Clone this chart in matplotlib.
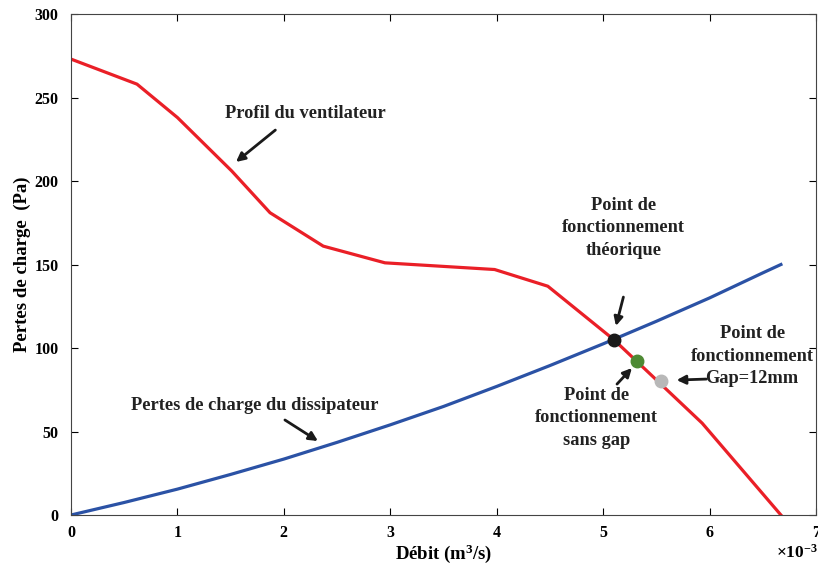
import matplotlib
matplotlib.use("Agg")
import matplotlib.pyplot as plt

# Fan curve (flow in 1e-3 m^3/s, pressure loss in Pa)
fan_flow = [0.0, 0.62, 1.0, 1.51, 1.87, 2.37, 2.95, 3.98, 4.48, 5.10, 5.93, 6.67]
fan_dp = [273, 258, 238, 206, 181, 161, 151, 147, 137, 105, 55, 0]

# Heat-sink pressure loss curve
sink_flow = [0.0, 0.5, 1.0, 1.5, 2.0, 2.5, 3.0, 3.5, 4.0, 4.5, 5.0, 5.5, 6.0, 6.5, 6.67]
sink_dp = [0, 7.5, 15.5, 24.3, 33.5, 43.5, 54, 65, 77, 89.5, 102.5, 116, 130, 145, 150]

# Operating points: theoretical, without gap, gap = 12 mm
op_flow = [5.10, 5.32, 5.54]
op_dp = [105, 92, 80]
op_colors = ["#1a1a1a", "#4e8a34", "#b8b8b8"]

xticks = [0, 1, 2, 3, 4, 5, 6, 7]
yticks = [0, 50, 100, 150, 200, 250, 300]

serif = ["Liberation Serif", "DejaVu Serif"]
plt.rcParams["font.family"] = serif
plt.rcParams["font.weight"] = "bold"
plt.rcParams["mathtext.fontset"] = "custom"
plt.rcParams["mathtext.rm"] = "Liberation Serif:bold"
plt.rcParams["mathtext.it"] = "Liberation Serif:bold"
plt.rcParams["mathtext.bf"] = "Liberation Serif:bold"

fig = plt.figure(figsize=(8.18, 5.67), dpi=100)
ax = fig.add_axes([0.0868, 0.0917, 0.9108, 0.8836])

ax.plot(fan_flow, fan_dp, color="#ea1f27", lw=2.3, zorder=2)
ax.plot(sink_flow, sink_dp, color="#2b52a5", lw=2.3, zorder=2)
for fx, fy, c in zip(op_flow, op_dp, op_colors):
    ax.plot(fx, fy, "o", ms=9, color=c, mec=c, zorder=3)

ax.set_xlim(0, 7)
ax.set_ylim(0, 300)
ax.set_xticks(xticks)
ax.set_yticks(yticks)
ax.tick_params(axis="both", direction="in", top=True, right=True, length=5,
               width=0.8, labelsize=11.5)
ax.tick_params(axis="x", pad=7)
ax.tick_params(axis="y", pad=9)
for lab in ax.get_xticklabels() + ax.get_yticklabels():
    lab.set_fontweight("bold")
for s in ax.spines.values():
    s.set_color("#444444")
    s.set_linewidth(0.8)

ax.set_xlabel("Débit (m$^3$/s)", fontsize=13.5, fontweight="bold", labelpad=1.5)
ax.set_ylabel("Pertes de charge  (Pa)", fontsize=13.5, fontweight="bold", labelpad=2.5)
fig.text(0.9995, 1 - 553 / 567, "$\\times$10$^{-3}$", ha="right", va="center",
         fontsize=12.5, fontweight="bold")

arrow = dict(arrowstyle="-|>", lw=2.0, color="#1a1a1a", mutation_scale=13,
             shrinkA=0, shrinkB=0)
tfont = dict(fontsize=13.2, fontweight="bold", ha="center", va="center",
             linespacing=1.45, color="#222222")

# Labels and their arrows
ax.text(2.20, 240.7, "Profil du ventilateur", **tfont)
ax.annotate("", xy=(1.55, 211.4), xytext=(1.92, 230.5), arrowprops=arrow)

ax.text(5.19, 171.9, "Point de\nfonctionnement\nthéorique", **tfont)
ax.annotate("", xy=(5.12, 113.2), xytext=(5.19, 130.5), arrowprops=arrow)

ax.text(6.40, 95.2, "Point de\nfonctionnement\nGap=12mm", **tfont)
ax.annotate("", xy=(5.69, 80.8), xytext=(5.97, 81.4), arrowprops=arrow)

ax.text(4.94, 58.1, "Point de\nfonctionnement\nsans gap", **tfont)
ax.annotate("", xy=(5.27, 88.0), xytext=(5.13, 78.4), arrowprops=arrow)

ax.text(1.73, 65.3, "Pertes de charge du dissipateur", **tfont)
ax.annotate("", xy=(2.32, 44.3), xytext=(2.01, 56.9), arrowprops=arrow)

fig.savefig("out.png", dpi=100)
